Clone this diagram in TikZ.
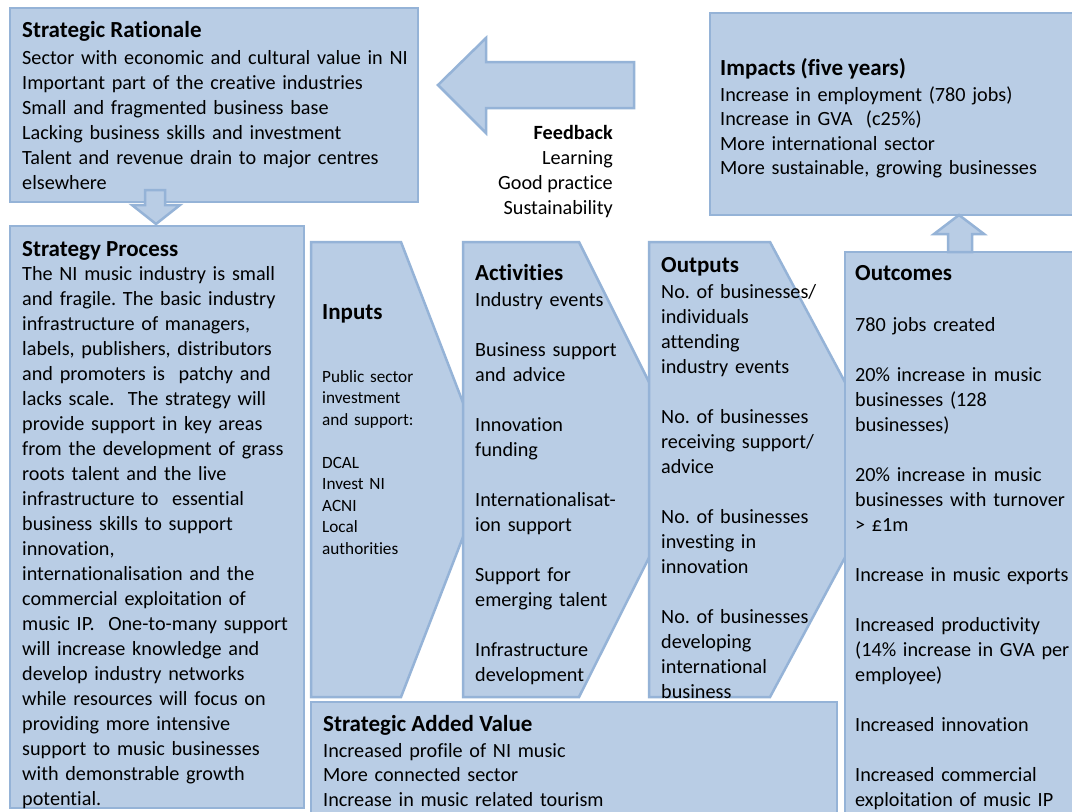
\documentclass[tikz,border=0pt]{standalone}
\usepackage{fontspec}
\setmainfont{Carlito}[Ligatures=NoCommon]
\usepackage{tikz}
\usepackage{xcolor}
\definecolor{boxfill}{HTML}{B9CDE5}
\definecolor{boxline}{HTML}{95B3D7}
\tikzset{
  block/.style={draw=boxline, fill=boxfill, line width=2.5pt, line join=miter},
  head/.style={anchor=base west, inner sep=0pt, font=\fontsize{23}{27}\selectfont\bfseries},
  body/.style={anchor=base west, inner sep=0pt, align=left, text width=#1, font=\fontsize{20.2}{25}\selectfont},
  body/.default=400pt,
  small/.style={anchor=base west, inner sep=0pt, align=left, text width=150pt, font=\fontsize{17.2}{21.5}\selectfont}
}
\frenchspacing
\begin{document}
\begin{tikzpicture}[x=1pt,y=-1pt]
\useasboundingbox (0,0) rectangle (1072,812);
\clip (0,0) rectangle (1072,812);
\fill[white] (0,0) rectangle (1072,812);
% boxes
\draw[block] (10,8) rectangle (418,202);
\draw[block] (10,226) rectangle (304,808);
\draw[block] (710,13) rectangle (1090,215);
\draw[block] (311,242) -- (401,242) -- (489,470) -- (401,697) -- (311,697) -- cycle;
\draw[block] (463,242) -- (579,242) -- (693,470) -- (579,697) -- (463,697) -- cycle;
\draw[block] (649,242) -- (770,242) -- (892,470) -- (770,697) -- (649,697) -- cycle;
\draw[block] (845,252) rectangle (1090,830);
\draw[block] (311,702) rectangle (837,830);
% block arrows
\draw[block] (438,85) -- (486,38) -- (486,62) -- (634,62) -- (634,108) -- (486,108) -- (486,133) -- cycle;
\draw[block] (145,190) -- (165,190) -- (165,205) -- (180,205) -- (156,224) -- (132,205) -- (145,205) -- cycle;
\draw[block] (948,252) -- (948,234) -- (934,234) -- (959,215) -- (984,234) -- (972,234) -- (972,252) -- cycle;
% texts
\node[head] (ratTitle) at (22,37) {Strategic Rationale};
\node[body] (ratBody) at (22,64) {Sector with economic and cultural value in NI\\
Important part of the creative industries\\
Small and fragmented business base\\
Lacking business skills and investment\\
Talent and revenue drain to major centres\\
elsewhere};
\node[anchor=base east, inner sep=0pt, font=\fontsize{20.2}{25}\selectfont\bfseries] (fbTitle) at (613,139) {Feedback};
\node[anchor=base east, inner sep=0pt, align=right, font=\fontsize{20.2}{25}\selectfont] (fbBody) at (613,214) {Learning\\Good practice\\Sustainability};
\node[head] (procTitle) at (22,256) {Strategy Process};
\node[body=300pt] (procBody) at (22,280) {The NI music industry is small\\
and fragile. The basic industry\\
infrastructure of managers,\\
labels, publishers, distributors\\
and promoters is\ \ patchy and\\
lacks scale.\ \ The strategy will\\
provide support in key areas\\
from the development of grass\\
roots talent and the live\\
infrastructure to\ \ essential\\
business skills to support\\
innovation,\\
internationalisation and the\\
commercial exploitation of\\
music IP.\ \ One-to-many support\\
will increase knowledge and\\
develop industry networks\\
while resources will focus on\\
providing more intensive\\
support to music businesses\\
with demonstrable growth\\
potential.};
\node[head] (inTitle) at (322,319) {Inputs};
\node[small] (inBody) at (322,382) {Public sector\\
investment\\
and support:\\[\baselineskip]
DCAL\\
Invest NI\\
ACNI\\
Local\\
authorities};
\node[head] (actTitle) at (475,280) {Activities};
\node[body=200pt] (actBody) at (475,306) {Industry events\\[\baselineskip]
Business support\\
and advice\\[\baselineskip]
Innovation\\
funding\\[\baselineskip]
Internationalisat-\\
ion support\\[\baselineskip]
Support for\\
emerging talent\\[\baselineskip]
Infrastructure\\
development};
\node[head] (outTitle) at (661,272) {Outputs};
\node[body=200pt] (outBody) at (661,298) {No. of businesses/\\
individuals\\
attending\\
industry events\\[\baselineskip]
No. of businesses\\
receiving support/\\
advice\\[\baselineskip]
No. of businesses\\
investing in\\
innovation\\[\baselineskip]
No. of businesses\\
developing\\
international\\
business};
\node[head] (ocTitle) at (855,280) {Outcomes};
\node[body=230pt] (ocBody) at (855,331) {780 jobs created\\[\baselineskip]
20\% increase in music\\
businesses (128\\
businesses)\\[\baselineskip]
20\% increase in music\\
businesses with turnover\\
> £1m\\[\baselineskip]
Increase in music exports\\[\baselineskip]
Increased productivity\\
(14\% increase in GVA per\\
employee)\\[\baselineskip]
Increased innovation\\[\baselineskip]
Increased commercial\\
exploitation of music IP};
\node[head] (impTitle) at (720,75) {Impacts (five years)};
\node[body=350pt, font=\fontsize{20.2}{24.5}\selectfont] (impBody) at (720,101) {Increase in employment (780 jobs)\\
Increase in GVA\ \ (c25\%)\\
More international sector\\
More sustainable, growing businesses};
\node[head] (savTitle) at (323,731) {Strategic Added Value};
\node[body=400pt, font=\fontsize{20.2}{24.5}\selectfont] (savBody) at (323,757) {Increased profile of NI music\\
More connected sector\\
Increase in music related tourism};
\end{tikzpicture}
\end{document}
